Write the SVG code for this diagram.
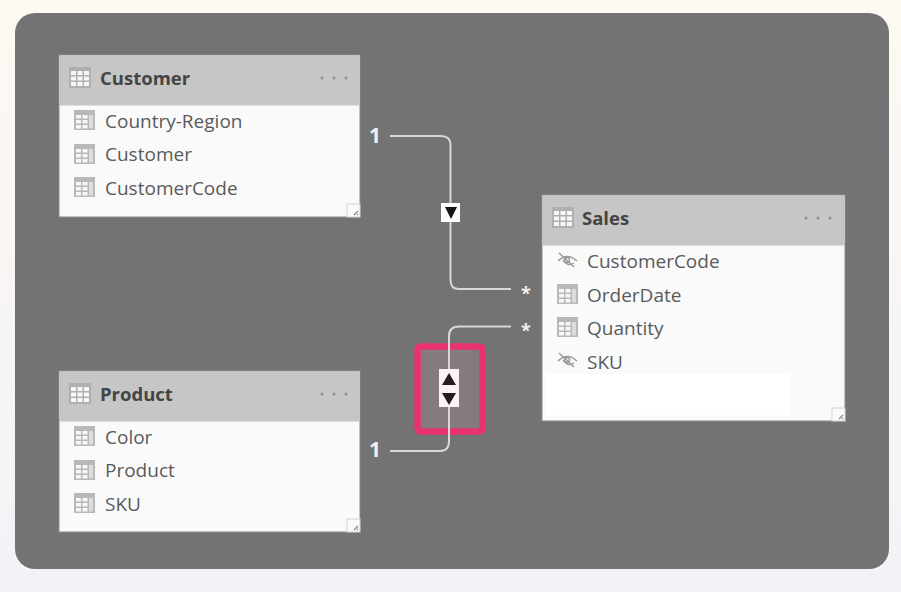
<svg xmlns="http://www.w3.org/2000/svg" width="901" height="592" viewBox="0 0 901 592">
<style>
.title{font:700 18.500px "Open Sans","Noto Sans",sans-serif;fill:#454545}
.field{font:400 19px "Open Sans","Noto Sans",sans-serif;fill:#5a5a5a}
.card{font:700 21px "Open Sans","Noto Sans",sans-serif;fill:#f0f0f0}
.star{font:700 18px "Open Sans","Noto Sans",sans-serif;fill:#f0f0f0}
.box{fill:#fafafa;stroke:#8c8c8c;stroke-width:1}
.head{fill:#c6c6c6}
.dots{fill:#8e8e8e}
.conn{fill:none;stroke:#d8d8d8;stroke-width:2}
</style>
<defs>
<linearGradient id="bg" x1="0" y1="0" x2="0" y2="1"><stop offset="0" stop-color="#fdf9f2"/><stop offset="1" stop-color="#f3f2f7"/></linearGradient>
<g id="ticon"><rect width="22" height="21" fill="#b0b0b0"/><g fill="#f7f7f7"><rect x="2" y="4" width="5" height="4"/><rect x="8.500" y="4" width="5" height="4"/><rect x="15" y="4" width="5" height="4"/><rect x="2" y="9.500" width="5" height="4"/><rect x="8.500" y="9.500" width="5" height="4"/><rect x="15" y="9.500" width="5" height="4"/><rect x="2" y="15" width="5" height="4"/><rect x="8.500" y="15" width="5" height="4"/><rect x="15" y="15" width="5" height="4"/></g></g>
<g id="ficon"><rect width="21" height="20" fill="#b8b8b8"/><g fill="#f7f7f7"><rect x="2" y="5" width="5" height="3.500"/><rect x="8.500" y="5" width="5" height="3.500"/><rect x="2" y="10" width="5" height="3.500"/><rect x="8.500" y="10" width="5" height="3.500"/><rect x="2" y="15" width="5" height="3.500"/><rect x="8.500" y="15" width="5" height="3.500"/></g><rect x="15" y="5" width="4" height="13.500" fill="#dcdcdc"/></g>
<g id="hidden" fill="none" stroke="#999" stroke-width="1.400"><path d="M1 9Q10 0 20 9"/><path d="M6 8Q10 15 17 11"/><path d="M2 1L17 15"/><circle cx="10" cy="8" r="2.500"/></g>
<g id="grip"><rect width="13" height="13" fill="#fafafa" stroke="#d2d2d2"/><path d="M11 7L7 11M11 10L10 11" stroke="#888" stroke-width="1.200"/></g>
<g id="more" class="dots"><circle cx="0" cy="0" r="1.500"/><circle cx="12" cy="0" r="1.500"/><circle cx="24" cy="0" r="1.500"/></g>
</defs>
<rect id="page" width="901" height="592" fill="url(#bg)"/>
<rect id="panel" x="15" y="13" width="874" height="556" rx="20" fill="#737373"/>
<g id="highlight"><rect x="417.500" y="346.500" width="65" height="85" rx="3" fill="#857a7d" stroke="#e8336e" stroke-width="6.500"/></g>
<g id="connectors">
<path class="conn" d="M390 136H441Q450.500 136 450.500 145V280Q450.500 289 459 289H511"/>
<path class="conn" d="M511 326.500H459Q449 326.500 449 336V441Q449 451 440 451H390"/>
<rect x="441" y="203" width="19" height="19" fill="#fff"/><path d="M445 207H457L451 219Z" fill="#141414"/>
<rect x="439" y="369" width="20" height="38" fill="#fdf2f5"/><path d="M449 373L456 385H442Z" fill="#231c20"/><path d="M442 393H456L449 405Z" fill="#231c20"/>
<text class="card" x="369" y="143">1</text>
<text class="card" x="369" y="457">1</text>
<text class="star" x="521" y="300">*</text>
<text class="star" x="521" y="337">*</text>
</g>
<g id="customer">
<rect class="box" x="59" y="55" width="301" height="162"/><rect class="head" x="59.500" y="55.500" width="300" height="50"/>
<use href="#ticon" x="69" y="67"/><text class="title" x="100" y="85">Customer</text><use href="#more" x="322" y="78"/>
<use href="#ficon" x="74" y="110"/><text class="field" x="105" y="128">Country-Region</text>
<use href="#ficon" x="74" y="144"/><text class="field" x="105" y="161">Customer</text>
<use href="#ficon" x="74" y="177"/><text class="field" x="105" y="195">CustomerCode</text>
<use href="#grip" x="347" y="204"/>
</g>
<g id="product">
<rect class="box" x="59" y="371" width="301" height="161"/><rect class="head" x="59.500" y="371.500" width="300" height="50"/>
<use href="#ticon" x="69" y="383"/><text class="title" x="100" y="401">Product</text><use href="#more" x="322" y="394"/>
<use href="#ficon" x="74" y="426"/><text class="field" x="105" y="444">Color</text>
<use href="#ficon" x="74" y="460"/><text class="field" x="105" y="477">Product</text>
<use href="#ficon" x="74" y="493"/><text class="field" x="105" y="511">SKU</text>
<use href="#grip" x="347" y="519"/>
</g>
<g id="sales">
<rect class="box" x="542" y="195" width="303" height="226"/><rect class="head" x="542.500" y="195.500" width="302" height="50"/>
<use href="#ticon" x="552" y="207"/><text class="title" x="582" y="225">Sales</text><use href="#more" x="806" y="218"/>
<use href="#hidden" x="557" y="252"/><text class="field" x="587" y="268">CustomerCode</text>
<use href="#ficon" x="557" y="284"/><text class="field" x="587" y="302">OrderDate</text>
<use href="#ficon" x="557" y="317"/><text class="field" x="587" y="335">Quantity</text>
<use href="#hidden" x="557" y="352"/><text class="field" x="587" y="369">SKU</text>
<rect x="547" y="374" width="243" height="41" fill="#fff"/>
<use href="#grip" x="832" y="408"/>
</g>
</svg>
